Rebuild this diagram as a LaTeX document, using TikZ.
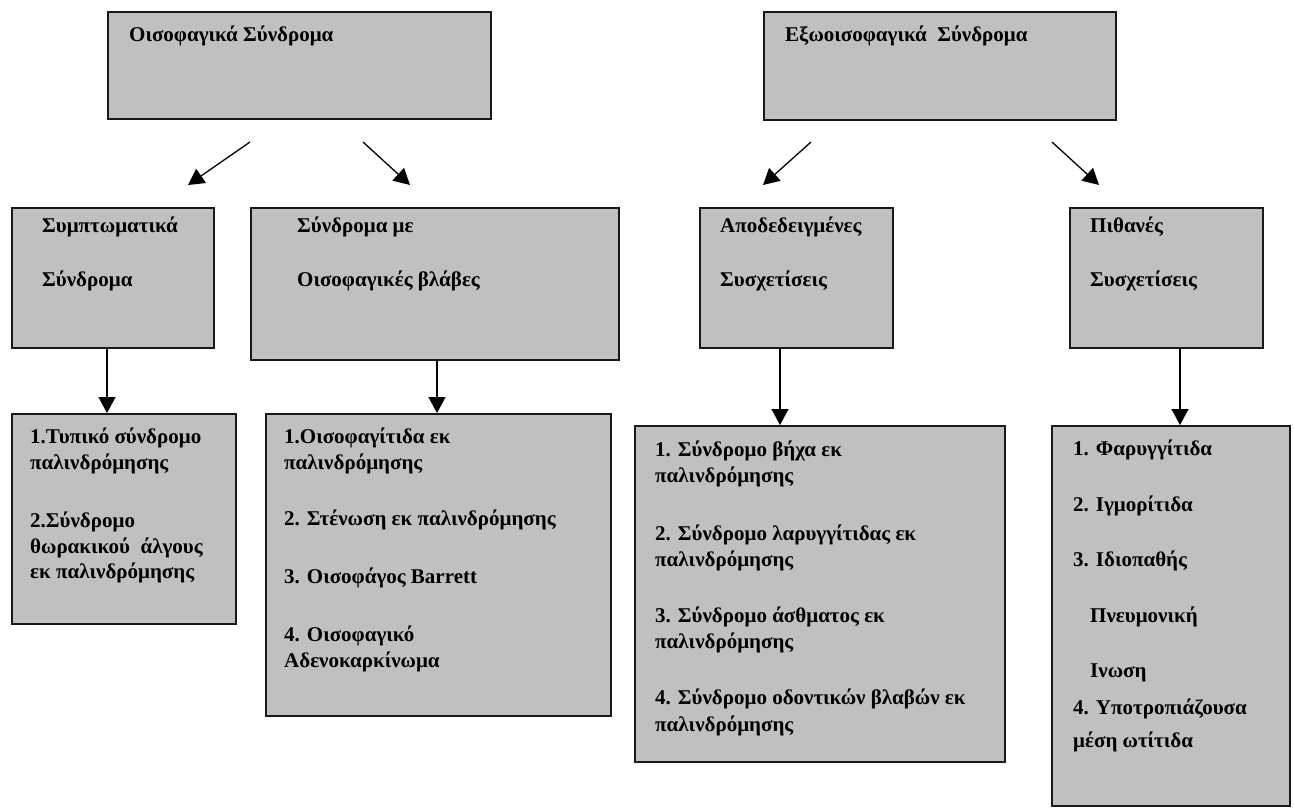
\documentclass[tikz,border=0pt]{standalone}
\usepackage{fontspec}
\setmainfont{Liberation Serif}
\usetikzlibrary{arrows.meta}
\definecolor{boxgray}{HTML}{C0C0C0}
\tikzset{
  box/.style={draw=black!90, line width=1.8pt, fill=boxgray, inner sep=0pt, anchor=north west},
  txt/.style={anchor=base west, inner sep=0pt, font=\bfseries\fontsize{21}{24}\selectfont},
  arr/.style={line width=1.3pt, -{Triangle[length=16pt,width=17pt]}}
}
\begin{document}
\begin{tikzpicture}[x=1pt,y=-1pt]
\useasboundingbox (0,0) rectangle (1294,807);
% boxes
\node[box, minimum width=383pt, minimum height=107pt] (t1) at (107,11) {};
\node[box, minimum width=352pt, minimum height=108pt] (t2) at (763,11) {};
\node[box, minimum width=202pt, minimum height=140pt] (m1) at (11,207) {};
\node[box, minimum width=368pt, minimum height=152pt] (m2) at (250,207) {};
\node[box, minimum width=193pt, minimum height=140pt] (m3) at (699,207) {};
\node[box, minimum width=193pt, minimum height=140pt] (m4) at (1069,207) {};
\node[box, minimum width=224pt, minimum height=210pt] (b1) at (11,413) {};
\node[box, minimum width=345pt, minimum height=302pt] (b2) at (265,413) {};
\node[box, minimum width=370pt, minimum height=336pt] (b3) at (634,425) {};
\node[box, minimum width=238pt, minimum height=380pt] (b4) at (1051,425) {};
% texts
\node[txt] (tt1) at (129,41) {Οισοφαγικά Σύνδρομα};
\node[txt] (tt2) at (785,41) {Εξωοισοφαγικά\ \ Σύνδρομα};
\node[txt] (mt1a) at (42,232) {Συμπτωματικά};
\node[txt] (mt1b) at (42,286) {Σύνδρομα};
\node[txt] (mt2a) at (297,232) {Σύνδρομα με};
\node[txt] (mt2b) at (297,286) {Οισοφαγικές βλάβες};
\node[txt] (mt3a) at (720,232) {Αποδεδειγμένες};
\node[txt] (mt3b) at (720,286) {Συσχετίσεις};
\node[txt] (mt4a) at (1090,232) {Πιθανές};
\node[txt] (mt4b) at (1090,286) {Συσχετίσεις};
% bottom 1
\node[txt] (bt1a) at (30,443) {1.Τυπικό σύνδρομο};
\node[txt] (bt1b) at (30,469) {παλινδρόμησης};
\node[txt] (bt1c) at (30,527) {2.Σύνδρομο};
\node[txt] (bt1d) at (30,553) {θωρακικού\ \ άλγους};
\node[txt] (bt1e) at (30,578) {εκ παλινδρόμησης};
% bottom 2
\node[txt] (bt2a) at (284,443) {1.Οισοφαγίτιδα εκ};
\node[txt] (bt2b) at (284,469) {παλινδρόμησης};
\node[txt] (bt2c) at (284,525) {2. Στένωση εκ παλινδρόμησης};
\node[txt] (bt2d) at (284,583) {3. Οισοφάγος Barrett};
\node[txt] (bt2e) at (284,641) {4. Οισοφαγικό};
\node[txt] (bt2f) at (284,667) {Αδενοκαρκίνωμα};
% bottom 3
\node[txt] (bt3a) at (655,456) {1. Σύνδρομο βήχα εκ};
\node[txt] (bt3b) at (655,482) {παλινδρόμησης};
\node[txt] (bt3c) at (655,540) {2. Σύνδρομο λαρυγγίτιδας εκ};
\node[txt] (bt3d) at (655,566) {παλινδρόμησης};
\node[txt] (bt3e) at (655,622) {3. Σύνδρομο άσθματος εκ};
\node[txt] (bt3f) at (655,648) {παλινδρόμησης};
\node[txt] (bt3g) at (655,704) {4. Σύνδρομο οδοντικών βλαβών εκ};
\node[txt] (bt3h) at (655,731) {παλινδρόμησης};
% bottom 4
\node[txt] (bt4a) at (1073,455) {1. Φαρυγγίτιδα};
\node[txt] (bt4b) at (1073,511) {2. Ιγμορίτιδα};
\node[txt] (bt4c) at (1073,566) {3. Ιδιοπαθής};
\node[txt] (bt4d) at (1090,622) {Πνευμονική};
\node[txt] (bt4e) at (1090,677) {Ινωση};
\node[txt] (bt4f) at (1073,714) {4. Υποτροπιάζουσα};
\node[txt] (bt4g) at (1073,747) {μέση ωτίτιδα};
% diagonal arrows
\coordinate (a1s) at (250,142); \coordinate (a1e) at (188,185);
\coordinate (a2s) at (363,142); \coordinate (a2e) at (410,185);
\coordinate (a3s) at (811,142); \coordinate (a3e) at (763,185);
\coordinate (a4s) at (1052,142); \coordinate (a4e) at (1099,185);
\draw[arr] (a1s) -- (a1e);
\draw[arr] (a2s) -- (a2e);
\draw[arr] (a3s) -- (a3e);
\draw[arr] (a4s) -- (a4e);
% vertical arrows
\coordinate (v1) at (107,0);
\coordinate (v2) at (437,0);
\coordinate (v3) at (780,0);
\coordinate (v4) at (1180,0);
\draw[arr] (m1.south -| v1) -- (b1.north -| v1);
\draw[arr] (m2.south -| v2) -- (b2.north -| v2);
\draw[arr] (m3.south -| v3) -- (b3.north -| v3);
\draw[arr] (m4.south -| v4) -- (b4.north -| v4);
\end{tikzpicture}
\end{document}
